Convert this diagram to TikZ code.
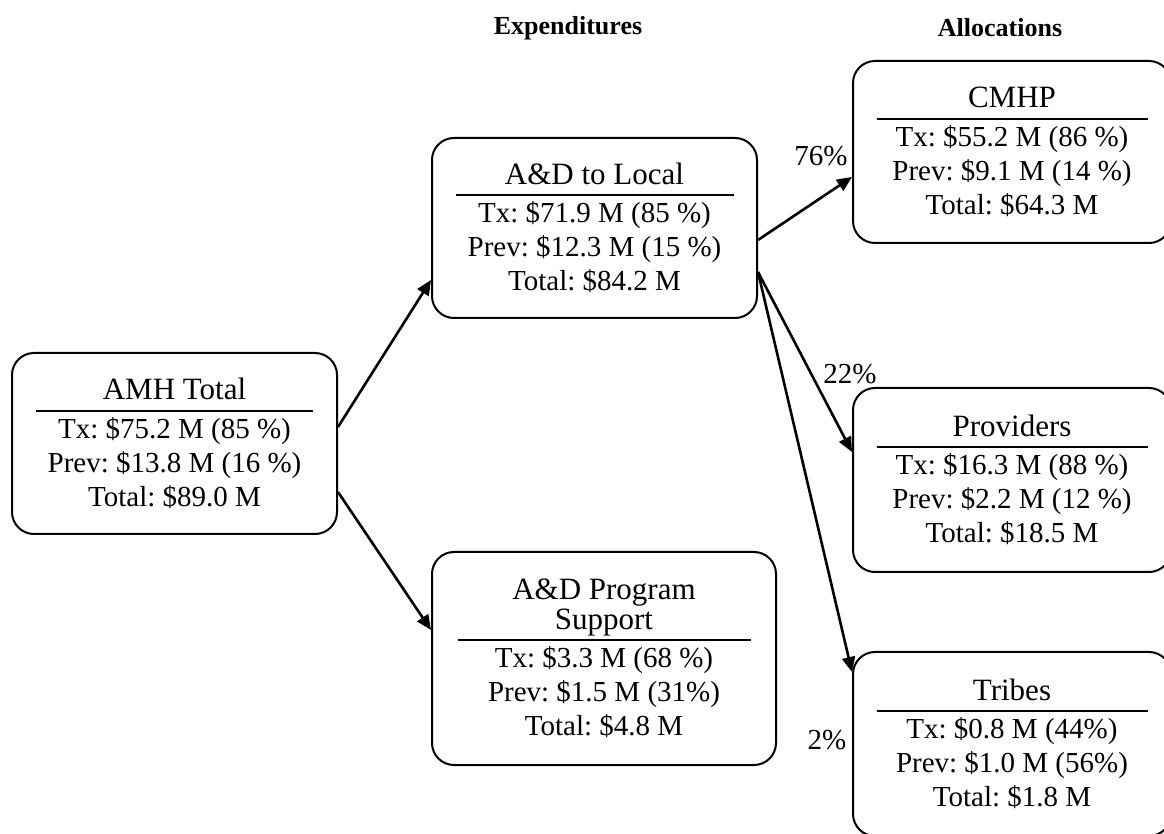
\documentclass[tikz,border=0pt]{standalone}
\usepackage{fontspec}
\setmainfont{Liberation Serif}
\usetikzlibrary{arrows.meta}
\frenchspacing
\newcommand{\hdsize}{\fontsize{15.5}{17}\selectfont}
\newcommand{\splitrule}[1]{\\[-11.1pt]\rule{#1}{1pt}\\[-3.7pt]}

\begin{document}
\begin{tikzpicture}[x=0.5pt, y=-0.5pt, every node/.style={font={\fontsize{14.5}{17}\selectfont}}, fundbox/.style={draw, line width=1pt, rounded corners=11pt, align=center, minimum width=162.5pt, minimum height=90.5pt}, colhead/.style={font={\bfseries\fontsize{13}{15}\selectfont}}, flow/.style={line width=1.3pt}, >={Triangle[length=7.5pt,width=6.5pt]}]

                \useasboundingbox (0,0) rectangle (1164,834);

                \node[colhead] (exphead) at (568,28)  {Expenditures};
                \node[colhead] (allhead) at (1000,28) {Allocations};

                \node[fundbox] (amh) at (174.5,443.5) {{\hdsize AMH Total}\splitrule{139pt}Tx: \$75.2 M (85 \%)\\ Prev: \$13.8 M (16 \%)\\ Total: \$89.0 M};
                \node[fundbox, minimum height=90pt] (local) at (594.5,228) {{\hdsize A\&D to Local}\splitrule{139pt}Tx: \$71.9 M (85 \%)\\ Prev: \$12.3 M (15 \%)\\ Total: \$84.2 M};
                \node[fundbox, minimum width=172pt, minimum height=106.5pt] (support) at (604,658.5) {{\hdsize A\&D Program}\\[-2pt]{\hdsize Support}\splitrule{146.5pt}Tx: \$3.3 M (68 \%)\\ Prev: \$1.5 M (31\%)\\ Total: \$4.8 M};

                \node[fundbox, minimum width=159pt, minimum height=91pt] (cmhp) at (1012,152) {{\hdsize CMHP}\splitrule{135.5pt}Tx: \$55.2 M (86 \%)\\ Prev: \$9.1 M (14 \%)\\ Total: \$64.3 M};
                \node[fundbox, minimum width=159pt, minimum height=92pt] (providers) at (1012,480) {{\hdsize Providers}\splitrule{135.5pt}Tx: \$16.3 M (88 \%)\\ Prev: \$2.2 M (12 \%)\\ Total: \$18.5 M};
                \node[fundbox, minimum width=159pt, minimum height=92pt] (tribes) at (1012,744) {{\hdsize Tribes}\splitrule{135.5pt}Tx: \$0.8 M (44\%)\\ Prev: \$1.0 M (56\%)\\ Total: \$1.8 M};

                \draw[flow,->] ([yshift=8.25pt]amh.east) -- ([yshift=-26pt]local.west);
                \draw[flow,->] ([yshift=-24.25pt]amh.east) -- ([yshift=14.25pt]support.west);

                \draw[flow,->] ([yshift=-6pt]local.east) -- ([yshift=-12.5pt]cmhp.west);
                \draw[flow,->] ([yshift=-22pt]local.east) -- ([yshift=14pt]providers.west);
                \draw[flow,->] ([yshift=-22pt]local.east) -- ([yshift=36pt]tribes.west);

                \node (pctcmhp)   at (821,156) {76\%};
                \node (pctprov)   at (850,374) {22\%};
                \node (pcttribes) at (827,740) {2\%};
            \end{tikzpicture}
\end{document}
